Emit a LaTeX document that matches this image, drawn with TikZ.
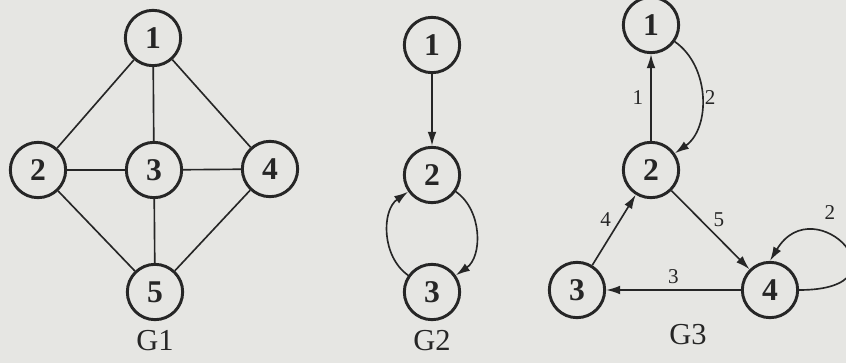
\documentclass[tikz,border=0pt]{standalone}
\usepackage{fontspec}
\setmainfont{Liberation Serif}
\usetikzlibrary{arrows.meta}
\definecolor{paper}{RGB}{230,230,227}
\definecolor{ink}{RGB}{38,38,38}

\begin{document}
\begin{tikzpicture}[x=0.03cm, y=0.03cm,
    vtx/.style={circle, draw=ink, line width=2.5pt, minimum size=1.66cm, inner sep=0pt,
                text=ink, font=\fontsize{27}{27}\selectfont\bfseries},
    edge/.style={draw=ink, line width=1.4pt},
    arc/.style={edge, -{Latex[length=12pt,width=7.5pt]}},
    wt/.style={text=ink, font=\fontsize{18}{18}\selectfont, inner sep=2pt},
    gname/.style={text=ink, font=\fontsize{26}{26}\selectfont}]
    \fill[paper] (0,0) rectangle (846,363);
    \useasboundingbox (0,0) rectangle (846,363);

    % LEFT: undirected graph G1
    \node[vtx] (p1) at (153,325) {1};
    \node[vtx] (p2) at (38,193) {2};
    \node[vtx] (p3) at (154,193) {3};
    \node[vtx] (p4) at (270,194) {4};
    \node[vtx] (p5) at (155,71) {5};
    \node[gname] (g1) at (155,22) {G1};
    \foreach \a/\b in {p1/p2, p1/p3, p1/p4, p2/p3, p3/p4, p2/p5, p3/p5, p4/p5}
        \draw[edge] (\a) -- (\b);

    % MIDDLE: directed graph G2
    \node[vtx] (q1) at (432,318) {1};
    \node[vtx] (q2) at (432,188) {2};
    \node[vtx] (q3) at (432,71) {3};
    \node[gname] (g2) at (432,22) {G2};
    \draw[arc] (q1) -- (q2);
    \draw[arc] (q2) to[bend left=55] (q3);
    \draw[arc] (q3) to[bend left=55] (q2);

    % RIGHT: weighted digraph G3
    \node[vtx] (r1) at (651,338) {1};
    \node[vtx] (r2) at (651,193) {2};
    \node[vtx] (r3) at (577,73) {3};
    \node[vtx] (r4) at (770,73) {4};
    \node[gname] (g3) at (688,28) {G3};
    \draw[arc] (r2) -- node[wt, left=4pt] {1} (r1);
    \draw[arc] (r1) to[bend left=55] node[wt, right] {2} (r2);
    \draw[arc] (r3) -- node[wt, above left] {4} (r2);
    \draw[arc] (r2) -- node[wt, above right] {5} (r4);
    \draw[arc] (r4) -- node[wt, above=3pt] {3} (r3);
    % self loop on 4
    \draw[arc] (r4.east) .. controls +(115,0) and +(45,75) .. (r4.north);
    \node[wt] (w44) at (830,150) {2};
\end{tikzpicture}
\end{document}
